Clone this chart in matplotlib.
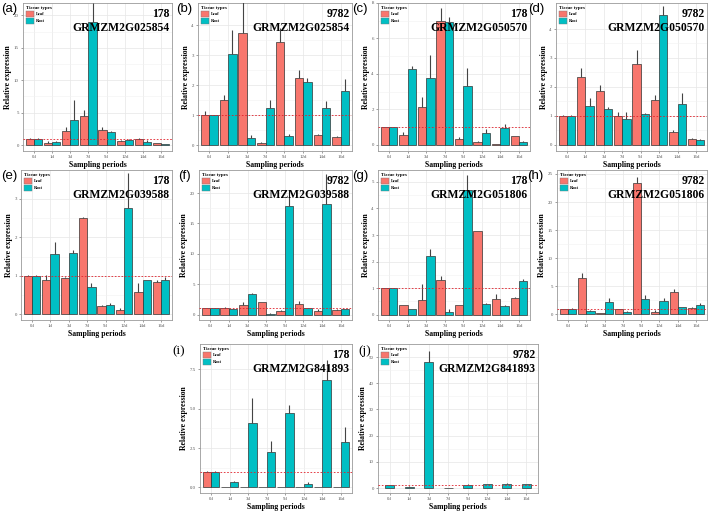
import numpy as np
import matplotlib
matplotlib.use("Agg")
import matplotlib.pyplot as plt
from matplotlib.patches import Patch

periods = ['0d', '1d', '3d', '7d', '9d', '12d', '14d', '16d']

# (a) 178 GRMZM2G025854
a_leaf = [1.0, 0.4, 2.25, 4.5, 2.35, 0.6, 1.0, 0.35]
a_leaf_se = [0.1, 0.25, 0.6, 0.95, 0.4, 0.15, 0.1, 0.05]
a_root = [1.0, 0.45, 3.9, 19.0, 2.0, 0.8, 0.45, 0.15]
a_root_se = [0.05, 0.2, 3.1, 2.9, 0.15, 0.2, 0.3, 0.05]

# (b) 9782 GRMZM2G025854
b_leaf = [1.0, 1.5, 3.73, 0.07, 3.45, 2.23, 0.35, 0.28]
b_leaf_se = [0.15, 0.17, 1.2, 0.03, 0.45, 0.27, 0.03, 0.02]
b_root = [1.0, 3.05, 0.22, 1.25, 0.3, 2.12, 1.23, 1.82]
b_root_se = [0.02, 0.8, 0.11, 0.27, 0.07, 0.13, 0.24, 0.38]

# (c) 178 GRMZM2G050570
c_leaf = [1.0, 0.55, 2.15, 7.0, 0.35, 0.15, 0.05, 0.5]
c_leaf_se = [0.02, 0.15, 0.55, 0.7, 0.1, 0.05, 0.01, 0.02]
c_root = [1.0, 4.3, 3.75, 6.9, 3.3, 0.65, 0.95, 0.15]
c_root_se = [0.02, 0.15, 1.3, 0.3, 1.05, 0.25, 0.25, 0.05]

# (d) 9782 GRMZM2G050570
d_leaf = [1.0, 2.35, 1.85, 0.98, 2.78, 1.53, 0.45, 0.2]
d_leaf_se = [0.02, 0.3, 0.2, 0.15, 0.48, 0.17, 0.07, 0.03]
d_root = [1.0, 1.33, 1.25, 0.87, 1.07, 4.5, 1.4, 0.17]
d_root_se = [0.02, 0.27, 0.05, 0.25, 0.02, 0.3, 0.37, 0.03]

# (e) 178 GRMZM2G039588
e_leaf = [1.0, 0.9, 0.93, 2.5, 0.22, 0.1, 0.57, 0.83]
e_leaf_se = [0.01, 0.12, 0.04, 0.02, 0.02, 0.05, 0.23, 0.05]
e_root = [1.0, 1.57, 1.6, 0.72, 0.25, 2.77, 0.88, 0.9]
e_root_se = [0.03, 0.3, 0.08, 0.08, 0.05, 0.9, 0.02, 0.07]

# (f) 9782 GRMZM2G039588
f_leaf = [1.0, 1.1, 1.5, 2.0, 0.5, 1.7, 0.6, 0.8]
f_leaf_se = [0.02, 0.1, 0.5, 0.05, 0.2, 0.5, 0.3, 0.05]
f_root = [1.0, 0.85, 3.4, 0.15, 17.8, 1.0, 18.2, 0.9]
f_root_se = [0.1, 0.05, 0.2, 0.15, 2.7, 0.1, 5.0, 0.05]

# (g) 178 GRMZM2G051806
g_leaf = [1.0, 0.35, 0.55, 1.3, 0.35, 3.15, 0.58, 0.62]
g_leaf_se = [0.01, 0.02, 0.6, 0.15, 0.03, 0.02, 0.2, 0.03]
g_root = [1.0, 0.2, 2.2, 0.12, 4.7, 0.4, 0.33, 1.28]
g_root_se = [0.02, 0.02, 0.27, 0.08, 0.55, 0.05, 0.02, 0.07]

# (h) 9782 GRMZM2G051806
h_leaf = [1.0, 6.4, 0.2, 0.9, 23.3, 0.5, 3.9, 1.1]
h_leaf_se = [0.02, 1.0, 0.1, 0.02, 1.2, 0.2, 0.7, 0.2]
h_root = [0.95, 0.65, 2.25, 0.45, 2.65, 2.3, 1.25, 1.7]
h_root_se = [0.1, 0.1, 0.65, 0.15, 0.75, 0.7, 0.15, 0.25]

# (i) 178 GRMZM2G841893
i_leaf = [1.0, 0.0, 0.0, 0.02, 0.0, 0.0, 0.0, 0.0]
i_leaf_se = [0.02, 0, 0, 0, 0, 0, 0, 0]
i_root = [1.0, 0.35, 4.1, 2.25, 4.75, 0.25, 6.8, 2.9]
i_root_se = [0.02, 0.05, 1.55, 0.7, 0.45, 0.1, 1.3, 0.95]

# (j) 9782 GRMZM2G841893 (root only)
j_root = [1.1, 0.5, 48.2, 0.1, 1.1, 1.4, 1.6, 1.4]
j_root_se = [0.05, 0.2, 4.1, 0.05, 0.3, 0.2, 0.3, 0.2]

LEAF = '#F8766D'
ROOT = '#00BFC4'
W, H = 709, 513

fig = plt.figure(figsize=(W / 100, H / 100), dpi=100)


def box(l, t, r, b):
    return [l / W, 1 - b / H, (r - l) / W, (b - t) / H]


def panel(rect, tag, line, gene, leaf, leaf_se, root, root_se, ylim, yt,
          ytl=None, tagfont='Liberation Sans', tagpos=None):
    ax = fig.add_axes(box(*rect))
    x = np.arange(len(periods))
    ax.set_axisbelow(True)
    ax.grid(True, which='major', color='#E6E6E6', lw=0.5)
    ax.set_xticks(x)
    ax.set_xticklabels(periods)
    ax.set_yticks(yt)
    if ytl is not None:
        ax.set_yticklabels(ytl)
    mid = [(yt[k] + yt[k + 1]) / 2 for k in range(len(yt) - 1)]
    ax.set_yticks(mid, minor=True)
    ax.grid(True, which='minor', axis='y', color='#F2F2F2', lw=0.4)
    ax.tick_params(which='minor', length=0)
    bw = 0.45
    if leaf is not None:
        xl, xr = x - bw / 2, x + bw / 2
        ax.bar(xl, leaf, bw, color=LEAF, edgecolor='#333333', lw=0.5, zorder=2)
        ax.errorbar(xl, leaf, yerr=[np.zeros(8), leaf_se], fmt='none',
                    ecolor='#444444', elinewidth=0.8, capsize=0, zorder=3)
    else:
        xr = x
    ax.bar(xr, root, bw, color=ROOT, edgecolor='#333333', lw=0.5, zorder=2)
    ax.errorbar(xr, root, yerr=[np.zeros(8), root_se], fmt='none',
                ecolor='#444444', elinewidth=0.8, capsize=0, zorder=3)
    ax.axhline(1, color='#E0202A', ls=(0, (2, 2)), lw=0.6, zorder=4)
    ax.set_xlim(-0.6, 7.6)
    ax.set_ylim(*ylim)
    ax.tick_params(axis='both', labelsize=3.5, length=1.5, width=0.4,
                   colors='#555555', pad=1.5)
    for s in ax.spines.values():
        s.set_color('#9A9A9A')
        s.set_linewidth(0.6)
    for lab in ax.get_xticklabels() + ax.get_yticklabels():
        lab.set_family('Liberation Serif')
    ax.set_xlabel('Sampling periods', family='Liberation Serif',
                  fontweight='bold', fontsize=5.6, labelpad=1.2)
    ax.set_ylabel('Relative expression', family='Liberation Serif',
                  fontweight='bold', fontsize=5.6, labelpad=1.2)
    ax.text(0.985, 0.965, line + '\n' + gene, transform=ax.transAxes,
            ha='right', va='top', family='Liberation Serif',
            fontweight='bold', fontsize=8.4, linespacing=1.25, zorder=6)
    handles = [Patch(facecolor=LEAF, edgecolor='#777777', lw=0.3),
               Patch(facecolor=ROOT, edgecolor='#777777', lw=0.3)]
    lg = ax.legend(handles, ['Leaf', 'Root'], title='Tissue types',
                   loc='upper left', frameon=False,
                   handlelength=1.8, handleheight=1.8, borderaxespad=0.3,
                   labelspacing=0.15, handletextpad=0.4,
                   prop={'family': 'Liberation Serif', 'size': 3.2,
                         'weight': 'bold'})
    lg.get_title().set_fontsize(3.6)
    lg.get_title().set_fontweight('bold')
    lg.get_title().set_family('Liberation Serif')
    lg._legend_box.align = 'left'
    lg.set_zorder(7)
    tx, ty = tagpos
    fig.text(tx / W, 1 - ty / H, tag, family=tagfont, fontsize=9.5,
             ha='left', va='top')
    return ax


panel((23, 3, 172, 151), '(a)', '178', 'GRMZM2G025854', a_leaf, a_leaf_se,
      a_root, a_root_se, (-0.9, 21.9), [0, 5, 10, 15, 20], tagpos=(1, 3))
panel((198, 3, 352, 151), '(b)', '9782', 'GRMZM2G025854', b_leaf, b_leaf_se,
      b_root, b_root_se, (-0.2, 4.75), [0, 1, 2, 3, 4], tagpos=(176, 3))
panel((378, 3, 530, 151), '(c)', '178', 'GRMZM2G050570', c_leaf, c_leaf_se,
      c_root, c_root_se, (-0.35, 8.0), [0, 2, 4, 6, 8], tagpos=(352, 3))
panel((556, 3, 707, 151), '(d)', '9782', 'GRMZM2G050570', d_leaf, d_leaf_se,
      d_root, d_root_se, (-0.22, 4.9), [0, 1, 2, 3, 4], tagpos=(528, 3))

panel((21, 170, 172, 320), '(e)', '178', 'GRMZM2G039588', e_leaf, e_leaf_se,
      e_root, e_root_se, (-0.15, 3.75), [0, 1, 2, 3], tagpos=(1, 170))
panel((199, 170, 352, 320), '(f)', '9782', 'GRMZM2G039588', f_leaf, f_leaf_se,
      f_root, f_root_se, (-0.9, 23.8), [0, 5, 10, 15, 20], tagpos=(178, 170))
panel((378, 170, 530, 320), '(g)', '178', 'GRMZM2G051806', g_leaf, g_leaf_se,
      g_root, g_root_se, (-0.2, 5.45), [0, 1, 2, 3, 4, 5], tagpos=(352, 170))
panel((557, 170, 707, 320), '(h)', '9782', 'GRMZM2G051806', h_leaf, h_leaf_se,
      h_root, h_root_se, (-1.0, 25.7), [0, 5, 10, 15, 20, 25], tagpos=(527, 170))

panel((200, 344, 352, 493), '(i)', '178', 'GRMZM2G841893', i_leaf, i_leaf_se,
      i_root, i_root_se, (-0.35, 9.1), [0, 2.5, 5.0, 7.5],
      ytl=['0.0', '2.5', '5.0', '7.5'], tagfont='Liberation Serif',
      tagpos=(172, 345))
panel((378, 344, 538, 493), '(j)', '9782', 'GRMZM2G841893', None, None,
      j_root, j_root_se, (-1.9, 55), [0, 10, 20, 30, 40, 50],
      tagfont='Liberation Serif', tagpos=(358, 345))

fig.savefig('out.png', dpi=100)
